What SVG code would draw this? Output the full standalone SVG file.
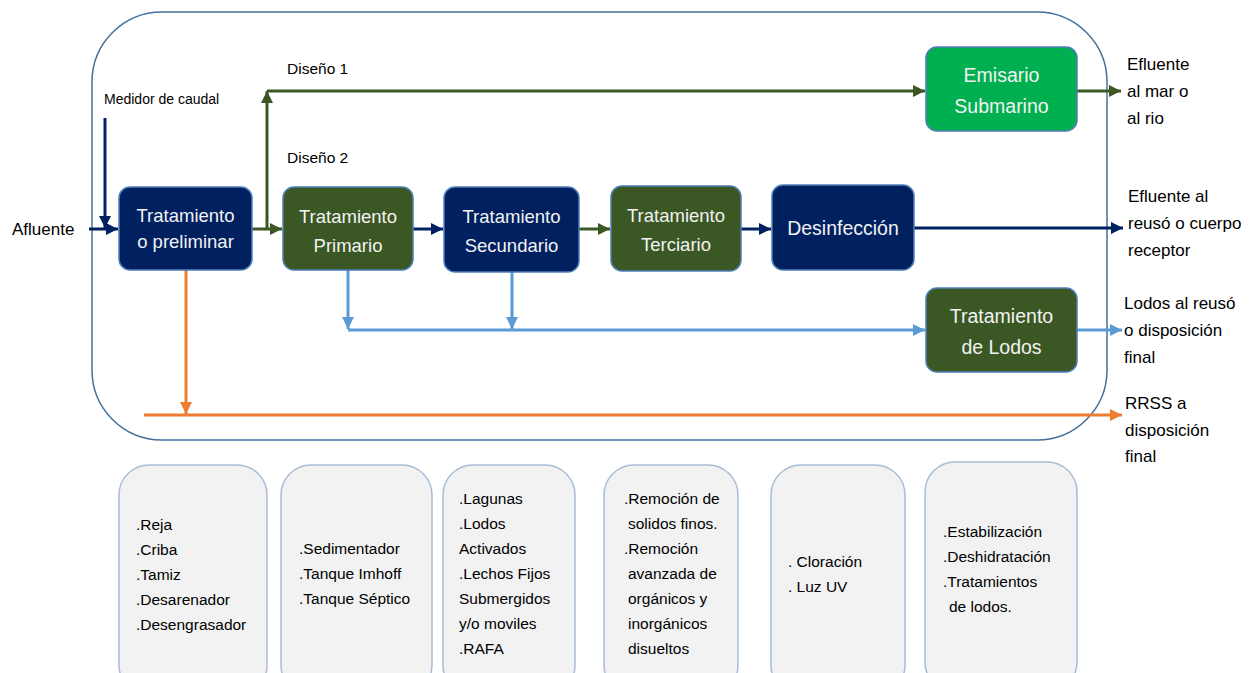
<svg xmlns="http://www.w3.org/2000/svg" width="1258" height="673" viewBox="0 0 1258 673">
<style>
text{font-family:"Liberation Sans",Arial,sans-serif;fill:#000}
.nt{fill:#F2F2F2;font-size:18.5px;text-anchor:middle}
.nt2{fill:#F2F2F2;font-size:19.5px;text-anchor:middle}
.lbl{font-size:17px}
.bt{font-size:15.5px}
.navy{fill:#002060;stroke:#4F7DB8;stroke-width:1.5}
.dg{fill:#3B5824;stroke:#4F7DB8;stroke-width:1.5}
.bg{fill:#00B050;stroke:#4F7DB8;stroke-width:1.5}
.box{fill:#F2F2F2;stroke:#A9BCD6;stroke-width:1.5}
.c{fill:none;stroke-width:3}
</style>
<defs>
<marker id="aN" viewBox="0 0 10 10" refX="10" refY="5" markerWidth="4" markerHeight="4" orient="auto" markerUnits="strokeWidth"><path d="M0,0L10,5L0,10z" fill="#002060"/></marker>
<marker id="aG" viewBox="0 0 10 10" refX="10" refY="5" markerWidth="4" markerHeight="4" orient="auto" markerUnits="strokeWidth"><path d="M0,0L10,5L0,10z" fill="#3B5824"/></marker>
<marker id="aB" viewBox="0 0 10 10" refX="10" refY="5" markerWidth="4" markerHeight="4" orient="auto" markerUnits="strokeWidth"><path d="M0,0L10,5L0,10z" fill="#5B9BD5"/></marker>
<marker id="aO" viewBox="0 0 10 10" refX="10" refY="5" markerWidth="4" markerHeight="4" orient="auto" markerUnits="strokeWidth"><path d="M0,0L10,5L0,10z" fill="#ED7D31"/></marker>
</defs>
<rect width="1258" height="673" fill="#fff"/>
<rect id="frame" x="92" y="12" width="1015" height="428" rx="70" fill="none" stroke="#41719C" stroke-width="1.5"/>

<g id="connectors">
<path class="c" stroke="#002060" d="M89,229H118" marker-end="url(#aN)"/>
<path class="c" stroke="#002060" d="M105,118V228" marker-end="url(#aN)"/>
<path class="c" stroke="#3B5824" d="M252,229H282" marker-end="url(#aG)"/>
<path class="c" stroke="#3B5824" d="M267,229V91" marker-end="url(#aG)"/>
<path class="c" stroke="#3B5824" d="M267,91H925" marker-end="url(#aG)"/>
<path class="c" stroke="#3B5824" d="M1077,91H1121" marker-end="url(#aG)"/>
<path class="c" stroke="#002060" d="M413,229H443" marker-end="url(#aN)"/>
<path class="c" stroke="#3B5824" d="M579,229H610" marker-end="url(#aG)"/>
<path class="c" stroke="#002060" d="M741,229H771" marker-end="url(#aN)"/>
<path class="c" stroke="#002060" d="M914,228H1123" marker-end="url(#aN)"/>
<path class="c" stroke="#5B9BD5" d="M348,270V329" marker-end="url(#aB)"/>
<path class="c" stroke="#5B9BD5" d="M512,272V329" marker-end="url(#aB)"/>
<path class="c" stroke="#5B9BD5" d="M348,330H925" marker-end="url(#aB)"/>
<path class="c" stroke="#5B9BD5" d="M1077,330H1122" marker-end="url(#aB)"/>
<path class="c" stroke="#ED7D31" d="M186,270V414" marker-end="url(#aO)"/>
<path class="c" stroke="#ED7D31" d="M144,415H1122" marker-end="url(#aO)"/>
</g>

<g id="n-preliminar"><rect class="navy" x="119" y="187" width="133" height="83" rx="11"/><text class="nt" x="185.5" y="222">Tratamiento</text><text class="nt" x="185.5" y="248">o preliminar</text></g>
<g id="n-primario"><rect class="dg" x="283" y="187" width="130" height="83" rx="11"/><text class="nt" x="348" y="223">Tratamiento</text><text class="nt" x="348" y="252">Primario</text></g>
<g id="n-secundario"><rect class="navy" x="444" y="187" width="135" height="85" rx="11"/><text class="nt" x="511.5" y="223">Tratamiento</text><text class="nt" x="511.5" y="252">Secundario</text></g>
<g id="n-terciario"><rect class="dg" x="611" y="186" width="130" height="85" rx="11"/><text class="nt" x="676" y="222">Tratamiento</text><text class="nt" x="676" y="251">Terciario</text></g>
<g id="n-desinfeccion"><rect class="navy" x="772" y="185" width="142" height="85" rx="11"/><text class="nt2" x="843" y="235">Desinfección</text></g>
<g id="n-emisario"><rect class="bg" x="926" y="47" width="151" height="84" rx="11"/><text class="nt2" x="1001.5" y="82">Emisario</text><text class="nt2" x="1001.5" y="113">Submarino</text></g>
<g id="n-lodos"><rect class="dg" x="926" y="288" width="151" height="84" rx="11"/><text class="nt2" x="1001.5" y="323">Tratamiento</text><text class="nt2" x="1001.5" y="354">de Lodos</text></g>

<g id="labels">
<text class="lbl" x="12" y="235">Afluente</text>
<text x="104" y="104" font-size="14">Medidor de caudal</text>
<text x="287" y="74" font-size="15.5">Diseño 1</text>
<text x="287" y="163" font-size="15.5">Diseño 2</text>
<text class="lbl" x="1127" y="70">Efluente</text>
<text class="lbl" x="1127" y="97">al mar o</text>
<text class="lbl" x="1127" y="124">al rio</text>
<text class="lbl" x="1128" y="202">Efluente al</text>
<text class="lbl" x="1128" y="229">reusó o cuerpo</text>
<text class="lbl" x="1128" y="256">receptor</text>
<text class="lbl" x="1124" y="309">Lodos al reusó</text>
<text class="lbl" x="1124" y="336">o disposición</text>
<text class="lbl" x="1124" y="363">final</text>
<text class="lbl" x="1125" y="409">RRSS a</text>
<text class="lbl" x="1125" y="436">disposición</text>
<text class="lbl" x="1125" y="462">final</text>
</g>

<g id="b-preliminar"><rect class="box" x="119" y="465" width="148" height="230" rx="30"/>
<text class="bt" x="136" y="530">.Reja</text><text class="bt" x="136" y="555">.Criba</text><text class="bt" x="136" y="580">.Tamiz</text><text class="bt" x="136" y="605">.Desarenador</text><text class="bt" x="136" y="630">.Desengrasador</text></g>
<g id="b-primario"><rect class="box" x="281" y="465" width="151" height="230" rx="30"/>
<text class="bt" x="299" y="554">.Sedimentador</text><text class="bt" x="299" y="579">.Tanque Imhoff</text><text class="bt" x="299" y="604">.Tanque Séptico</text></g>
<g id="b-secundario"><rect class="box" x="443" y="465" width="132" height="230" rx="30"/>
<text class="bt" x="459" y="504">.Lagunas</text><text class="bt" x="459" y="529">.Lodos</text><text class="bt" x="459" y="554">Activados</text><text class="bt" x="459" y="579">.Lechos Fijos</text><text class="bt" x="459" y="604">Submergidos</text><text class="bt" x="459" y="629">y/o moviles</text><text class="bt" x="459" y="654">.RAFA</text></g>
<g id="b-terciario"><rect class="box" x="604" y="465" width="134" height="230" rx="30"/>
<text class="bt" x="624" y="504">.Remoción de</text><text class="bt" x="628" y="529">solidos finos.</text><text class="bt" x="624" y="554">.Remoción</text><text class="bt" x="628" y="579">avanzada de</text><text class="bt" x="628" y="604">orgánicos y</text><text class="bt" x="628" y="629">inorgánicos</text><text class="bt" x="628" y="654">disueltos</text></g>
<g id="b-desinfeccion"><rect class="box" x="771" y="465" width="134" height="230" rx="30"/>
<text class="bt" x="788" y="567">. Cloración</text><text class="bt" x="788" y="592">. Luz UV</text></g>
<g id="b-lodos"><rect class="box" x="925" y="462" width="152" height="230" rx="30"/>
<text class="bt" x="943" y="537">.Estabilización</text><text class="bt" x="943" y="562">.Deshidratación</text><text class="bt" x="943" y="587">.Tratamientos</text><text class="bt" x="949" y="612">de lodos.</text></g>
</svg>
